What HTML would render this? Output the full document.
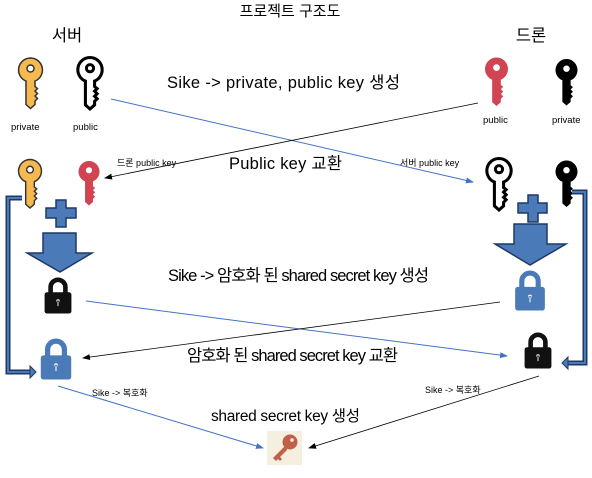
<!DOCTYPE html>
<html><head><meta charset="utf-8"><style>
body{margin:0;background:#fff;}
svg{display:block;font-family:"Liberation Sans","Noto Sans CJK KR",sans-serif;}
</style></head><body>
<svg width="592" height="478" viewBox="0 0 592 478" xmlns="http://www.w3.org/2000/svg">
<defs>
<symbol id="key" viewBox="0 0 25 52" overflow="visible">
<path d="M12.5 0.5a12 12 0 0 1 4.5 23.1V29l2.5 2-2.5 2.5 2.5 2.5-2.5 2.5 2.5 2.5-2.5 2.5V47l-4.5 4-4.5-4V23.6A12 12 0 0 1 12.5 0.5z"/>
<circle cx="12.5" cy="11" r="3.5" fill="#fff"/>
</symbol>
<symbol id="lock" viewBox="0 0 30 40" overflow="visible">
<path d="M7 19V11a8 8 0 0 1 16 0v8" fill="none" stroke-width="5" stroke="inherit"/>
<rect x="1" y="17" width="28" height="22" rx="2"/>
<circle cx="15" cy="26" r="2.5" fill="#fff"/><rect x="14" y="26" width="2" height="6" fill="#fff"/>
</symbol>
<marker id="ab" markerWidth="8" markerHeight="8" refX="7" refY="4" orient="auto" markerUnits="userSpaceOnUse"><path d="M0 1L8 4L0 7z" fill="#4472c4"/></marker>
<marker id="ak" markerWidth="8" markerHeight="8" refX="7" refY="4" orient="auto" markerUnits="userSpaceOnUse"><path d="M0 1L8 4L0 7z" fill="#000"/></marker>
</defs>

<g font-size="16.5" fill="#000">
<text x="290" y="16" text-anchor="middle" font-size="15">프로젝트 구조도</text>
<text x="67" y="41" text-anchor="middle">서버</text>
<text x="531" y="41" text-anchor="middle">드론</text>
<text x="167" y="88" textLength="233">Sike -&gt; private, public key 생성</text>
<text x="229" y="169" textLength="113">Public key 교환</text>
<text x="168" y="281" textLength="261">Sike -&gt; 암호화 된 shared secret key 생성</text>
<text x="187" y="361" textLength="211">암호화 된 shared secret key 교환</text>
<text x="211" y="421" font-size="15.5" textLength="149">shared secret key 생성</text>
</g>
<g font-size="9.5" fill="#000">
<text x="11" y="130">private</text><text x="73" y="130">public</text>
<text x="483" y="123">public</text><text x="552" y="123">private</text>
<text x="117" y="166" font-size="9">드론 public key</text>
<text x="400" y="166" font-size="9">서버 public key</text>
<text x="92" y="396" font-size="9">Sike -&gt; 복호화</text>
<text x="425" y="393" font-size="9">Sike -&gt; 복호화</text>
</g>

<use href="#key" x="18" y="57" width="25" height="53" fill="#f6b94f" stroke="#333" stroke-width="1.5"/>
<use href="#key" x="77" y="57" width="26" height="53" fill="#fff" stroke="#000" stroke-width="3"/>
<use href="#key" x="484" y="57" width="25" height="50" fill="#d14452" stroke="none"/>
<use href="#key" x="555" y="57" width="23" height="51" fill="#000"/>
<use href="#key" x="18" y="158" width="24" height="52" fill="#f6b94f" stroke="#333" stroke-width="1.5"/>
<use href="#key" x="78" y="158" width="22" height="51" fill="#d14452"/>
<use href="#key" x="486" y="158" width="26" height="53" fill="#fff" stroke="#000" stroke-width="3"/>
<use href="#key" x="555" y="158" width="23" height="52" fill="#000"/>

<path d="M56 200h10v8h10v10h-10v9h-10v-9h-10v-10h10z" fill="#4a7ab8" stroke="#1f3864" stroke-width="1.5"/>
<path d="M528 195h10v8h9v10h-9v9h-10v-9h-10v-10h10z" fill="#4a7ab8" stroke="#1f3864" stroke-width="1.5"/>
<path d="M43 233h33v20h16l-32 19-33-19h16z" fill="#4a7ab8" stroke="#1f3864" stroke-width="1.5"/>
<path d="M514 224h33v20h19l-36 21-35-21h19z" fill="#4a7ab8" stroke="#1f3864" stroke-width="1.5"/>
<path d="M22 198H8v174h22" fill="none" stroke="#1f3864" stroke-width="5"/>
<path d="M22 198H8v174h22" fill="none" stroke="#4a7ab8" stroke-width="2"/>
<path d="M30 366l6 6-6 6z" fill="#4a7ab8" stroke="#1f3864"/>
<path d="M572 192h13v171h-17" fill="none" stroke="#1f3864" stroke-width="5"/>
<path d="M572 192h13v171h-17" fill="none" stroke="#4a7ab8" stroke-width="2"/>
<path d="M568 357l-6 6 6 6z" fill="#4a7ab8" stroke="#1f3864"/>

<use href="#lock" x="44" y="277" width="28" height="37" fill="#111" stroke="#111"/>
<use href="#lock" x="514" y="270" width="32" height="41" fill="#4a7ab8" stroke="#4a7ab8"/>
<use href="#lock" x="40" y="338" width="32" height="42" fill="#4a7ab8" stroke="#4a7ab8"/>
<use href="#lock" x="524" y="332" width="28" height="37" fill="#111" stroke="#111"/>

<rect x="267" y="431" width="35" height="34" fill="#f4efdf"/>
<circle cx="290" cy="442" r="7.5" fill="#c0604a"/>
<path d="M286 445l-13 13 3 3 2-2 2 2 2-2-2-2 7-7z" fill="#c0604a"/>
<circle cx="292" cy="440" r="1.8" fill="#f4efdf"/>

<line x1="111" y1="99" x2="473" y2="182" stroke="#4472c4" marker-end="url(#ab)"/>
<line x1="478" y1="103" x2="105" y2="178" stroke="#000" stroke-width="0.8" marker-end="url(#ak)"/>
<line x1="86" y1="301" x2="507" y2="356" stroke="#4472c4" marker-end="url(#ab)"/>
<line x1="500" y1="302" x2="83" y2="358" stroke="#000" stroke-width="0.8" marker-end="url(#ak)"/>
<line x1="58" y1="386" x2="263" y2="448" stroke="#4472c4" marker-end="url(#ab)"/>
<line x1="539" y1="376" x2="309" y2="448" stroke="#000" stroke-width="0.8" marker-end="url(#ak)"/>
</svg>
</body></html>
